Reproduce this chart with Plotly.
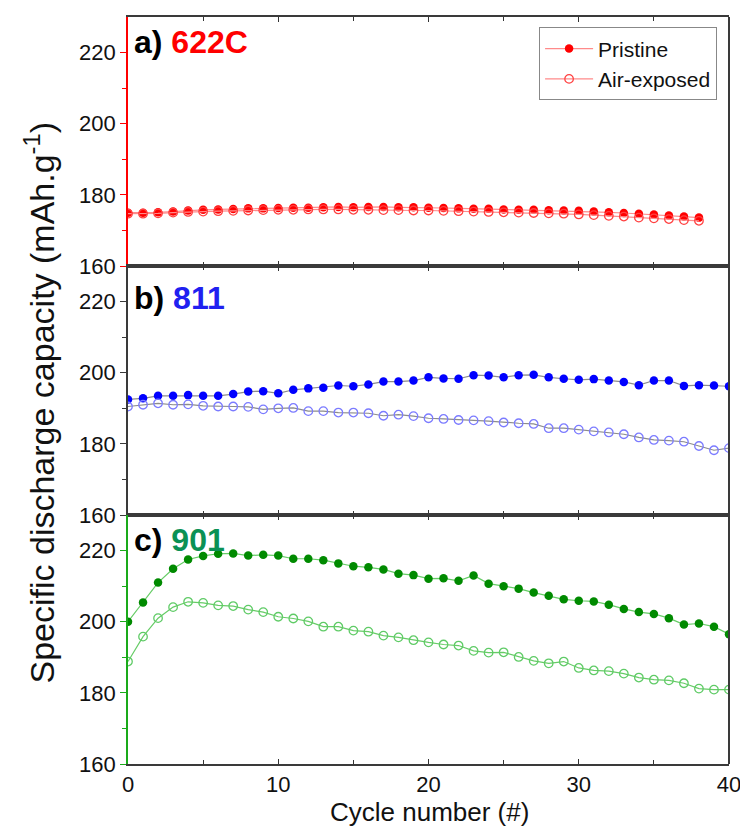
import plotly.graph_objects as go
from plotly.subplots import make_subplots

# ---------------- data ----------------
cycles_622 = list(range(39))
pristine_622 = [175.0, 175.0, 175.1, 175.3, 175.6, 175.8, 175.9, 176.0, 176.2, 176.2,
                176.3, 176.4, 176.4, 176.5, 176.6, 176.5, 176.6, 176.6, 176.5, 176.5,
                176.4, 176.3, 176.2, 176.1, 176.1, 175.9, 175.8, 175.8, 175.7, 175.6,
                175.5, 175.3, 175.1, 174.9, 174.7, 174.5, 174.2, 173.9, 173.6]
air_622 = [174.7, 174.7, 174.8, 175.0, 175.2, 175.3, 175.4, 175.5, 175.6, 175.7,
           175.8, 175.8, 175.9, 175.9, 175.9, 175.8, 175.8, 175.7, 175.7, 175.6,
           175.6, 175.5, 175.4, 175.3, 175.2, 175.1, 175.0, 174.9, 174.8, 174.7,
           174.5, 174.3, 174.1, 173.9, 173.6, 173.4, 173.2, 172.9, 172.7]

cycles = list(range(41))
pristine_811 = [192.5, 192.8, 193.5, 193.5, 193.7, 193.5, 193.5, 194.0, 194.7, 194.8,
                194.2, 195.2, 195.6, 195.8, 196.4, 196.2, 196.7, 197.5, 197.5, 197.8,
                198.7, 198.4, 198.3, 199.3, 199.2, 198.7, 199.3, 199.4, 198.7, 198.3,
                198.0, 198.2, 197.8, 197.4, 196.5, 197.8, 197.8, 196.3, 196.5, 196.4,
                196.2]
air_811 = [190.5, 191.0, 191.4, 191.0, 191.1, 190.7, 190.5, 190.5, 190.4, 189.7,
           190.0, 190.1, 189.2, 189.2, 188.8, 188.8, 188.6, 187.9, 188.2, 187.8,
           187.2, 187.0, 186.7, 186.6, 186.4, 186.0, 185.8, 185.6, 184.4, 184.4,
           184.0, 183.5, 183.2, 182.7, 181.8, 181.1, 180.9, 180.6, 179.4, 178.2,
           178.8]

pristine_901 = [200.0, 205.4, 211.0, 214.9, 217.5, 218.5, 219.1, 219.2, 218.6, 218.8,
                218.6, 217.7, 217.7, 217.3, 216.4, 215.6, 215.3, 214.7, 213.5, 213.1,
                212.1, 212.2, 211.5, 213.0, 210.7, 210.0, 209.3, 208.2, 207.3, 206.3,
                205.9, 205.7, 204.8, 203.6, 202.7, 202.2, 201.0, 199.2, 199.5, 198.6,
                196.5]
air_901 = [188.8, 195.8, 201.0, 204.1, 205.6, 205.3, 204.6, 204.4, 203.4, 202.7,
           201.4, 200.9, 200.1, 198.6, 198.6, 197.5, 197.2, 196.1, 195.6, 194.8,
           194.2, 193.6, 193.3, 191.8, 191.3, 191.4, 190.1, 189.0, 188.3, 188.8,
           187.0, 186.3, 186.1, 185.4, 184.3, 183.7, 183.5, 182.7, 181.2, 180.9,
           180.9]

series_names = ["Pristine", "Air-exposed"]
panel_labels = ["a)", "b)", "c)"]
panel_names = ["622C", "811", "901"]
y_ticks = [160, 180, 200, 220]
x_ticks = [0, 10, 20, 30, 40]

# ---------------- styles ----------------
FONT = "Liberation Sans, Arial, sans-serif"
panels = [
    dict(x=cycles_622, p=pristine_622, a=air_622,
         pm="#FF0000", am="#FF4040", pl="#FF8A8A", al="#FF8A8A",
         axis="#FF0000", title="#FF0000"),
    dict(x=cycles, p=pristine_811, a=air_811,
         pm="#0000FF", am="#7B7BFF", pl="#8C8C8C", al="#8C8C8C",
         axis="#3A3A3A", title="#2020F0"),
    dict(x=cycles, p=pristine_901, a=air_901,
         pm="#008A00", am="#5FCB66", pl="#66CC66", al="#66CC66",
         axis="#1AAA1A", title="#0A9155"),
]

fig = make_subplots(rows=3, cols=1, shared_xaxes=True, vertical_spacing=0)

for i, pn in enumerate(panels):
    r = i + 1
    fig.add_trace(go.Scatter(
        x=pn["x"], y=pn["p"], mode="lines+markers", name=series_names[0],
        line=dict(color=pn["pl"], width=1.2),
        marker=dict(symbol="circle", size=8.5, color=pn["pm"], line=dict(width=0)),
        showlegend=(i == 0)), row=r, col=1)
    fig.add_trace(go.Scatter(
        x=pn["x"], y=pn["a"], mode="lines+markers", name=series_names[1],
        line=dict(color=pn["al"], width=1.2),
        marker=dict(symbol="circle-open", size=8.5, color=pn["am"], line=dict(width=1.3)),
        showlegend=(i == 0)), row=r, col=1)

    fig.update_yaxes(
        range=[160, 230], tickvals=y_ticks, ticks="outside", ticklen=6, tickwidth=1.3,
        tickcolor=pn["axis"], showline=True, linecolor=pn["axis"], linewidth=1.6,
        mirror=False, showgrid=False, zeroline=False,
        minor=dict(tickvals=[170, 190, 210], ticks="outside", ticklen=4,
                   tickcolor=pn["axis"], tickwidth=1.3),
        tickfont=dict(family=FONT, size=22, color="#111111"),
        row=r, col=1)
    fig.update_xaxes(
        range=[0, 40], tickvals=x_ticks, ticks="inside", ticklen=5, tickwidth=1.3,
        tickcolor="#333333", showline=True, linecolor="#3A3A3A", linewidth=2,
        mirror="ticks", showgrid=False, zeroline=False,
        minor=dict(tickvals=[5, 15, 25, 35], ticks="inside", ticklen=4,
                   tickcolor="#333333", tickwidth=1.3),
        tickfont=dict(family=FONT, size=22, color="#111111"),
        row=r, col=1)

    # right frame edge in dark grey
    fig.add_shape(type="line", xref="x domain", yref="y domain",
                  x0=1, x1=1, y0=0, y1=1, line=dict(color="#3A3A3A", width=2),
                  row=r, col=1)
    fig.add_annotation(
        xref="x domain", yref="y domain", x=0.006, y=0.98 if i != 1 else 0.95,
        xanchor="left", yanchor="top", showarrow=False,
        text=f"<b>{panel_labels[i]}</b> <b><span style='color:{pn['title']}'>{panel_names[i]}</span></b>",
        font=dict(family=FONT, size=32, color="#000000"),
        row=r, col=1)

fig.update_xaxes(ticklabelstandoff=0, row=3, col=1)

fig.add_annotation(
    xref="paper", yref="paper", x=-0.148, y=0.484, xanchor="center", yanchor="middle",
    textangle=-90, showarrow=False,
    text="Specific discharge capacity (mAh.g<sup>-1</sup>)",
    font=dict(family=FONT, size=34, color="#111111"))
fig.add_annotation(
    xref="paper", yref="paper", x=0.502, y=-0.064, xanchor="center", yanchor="middle",
    showarrow=False, text="Cycle number (#)",
    font=dict(family=FONT, size=26, color="#111111"))

# the page body adds an 8 px offset, so the figure is 8 px smaller than the window
fig.update_layout(
    width=740, height=821,
    margin=dict(l=120, r=13, t=7, b=65),
    paper_bgcolor="white", plot_bgcolor="white",
    legend=dict(x=0.684, y=0.986, xanchor="left", yanchor="top",
                bgcolor="white", bordercolor="#888888", borderwidth=1,
                font=dict(family=FONT, size=21, color="#111111"),
                itemwidth=48, tracegroupgap=0),
)

fig.write_html("out.html")
